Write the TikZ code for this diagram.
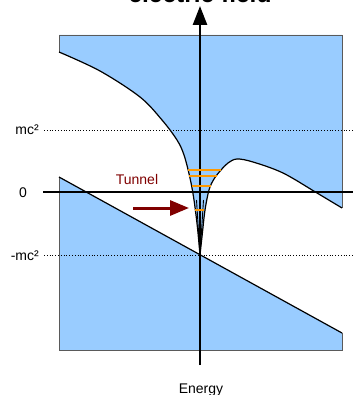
\documentclass[tikz,border=0pt]{standalone}
\usepackage{fontspec}
\setmainfont{Liberation Sans}
\usetikzlibrary{arrows.meta}
\definecolor{bandblue}{HTML}{99CCFF}
\definecolor{edgegray}{HTML}{5A5A5A}
\definecolor{levelorange}{HTML}{FF9900}
\definecolor{tunnelred}{HTML}{800000}
\tikzset{
  band/.style={fill=bandblue, draw=none},
  bandedge/.style={draw=edgegray, line width=0.8pt},
  curveline/.style={draw=black, line width=1.2pt},
  refline/.style={draw=black, line width=0.8pt, dotted},
  axisline/.style={draw=black, line width=2.6pt},
  levelline/.style={draw=levelorange, line width=2.4pt},
  lbl/.style={font=\fontsize{14}{16}\selectfont, inner sep=0pt},
}
\begin{document}
\begin{tikzpicture}[x=1pt,y=-1pt]
\useasboundingbox (0,0) rectangle (353,395);
% upper band
\fill[bandblue] (59,35) -- (342,35) -- (342,208)
  -- plot[smooth, tension=0.55] coordinates {(342,208) (317,193) (283,173) (253,162) (237,159) (228,163) (221,170) (214,179) (209,190) (205,210) (202.5,232) (200,255)}
  -- plot[smooth, tension=0.55] coordinates {(200,255) (197.5,228) (194,200) (190,178) (184,155) (177,140) (162,120) (140,97) (100,71) (59,52)}
  -- cycle;
% lower band
\fill[bandblue] (59,177) -- (342,333) -- (342,350) -- (59,350) -- cycle;
% gray edges
\draw[bandedge] (59,52) -- (59,35) -- (342,35) -- (342,208);
\draw[bandedge] (59,177) -- (59,350) -- (342,350) -- (342,333);
% black curves
\draw[curveline] plot[smooth, tension=0.55] coordinates {(342,208) (317,193) (283,173) (253,162) (237,159) (228,163) (221,170) (214,179) (209,190) (205,210) (202.5,232) (200,255)};
\draw[curveline] plot[smooth, tension=0.55] coordinates {(200,255) (197.5,228) (194,200) (190,178) (184,155) (177,140) (162,120) (140,97) (100,71) (59,52)};
\draw[black, line width=0.9pt] (196.5,200) -- (200,255) -- (203.5,200);
\draw[curveline] (59,177) -- (342,333);
% reference lines
\coordinate (mcL) at (44,130); \coordinate (mcR) at (353,130);
\coordinate (nmcL) at (44,255); \coordinate (nmcR) at (353,255);
\draw[refline] (mcL) -- (mcR);
\draw[refline] (nmcL) -- (nmcR);
% axes
\coordinate (hL) at (43,192); \coordinate (hR) at (353,192);
\coordinate (vB) at (200,365); \coordinate (vT) at (200,6);
\draw[axisline] (hL) -- (hR);
\draw[axisline, -{Triangle[length=19pt,width=14pt]}] (vB) -- (vT);
% bound levels
\coordinate (l1a) at (188,170); \coordinate (l1b) at (221,170);
\coordinate (l2a) at (189,176); \coordinate (l2b) at (217,176);
\coordinate (l3a) at (192,186); \coordinate (l3b) at (211,186);
\coordinate (l4a) at (195,210); \coordinate (l4b) at (204,210);
\draw[levelline] (l1a) -- (l1b);
\draw[levelline] (l2a) -- (l2b);
\draw[levelline] (l3a) -- (l3b);
\draw[levelline] (l4a) -- (l4b);
% tunnel arrow
\coordinate (tA) at (133,208); \coordinate (tB) at (189,208);
\draw[tunnelred, line width=3pt, -{Triangle[length=19pt,width=15pt]}] (tA) -- (tB);
% texts
\node[lbl, text=tunnelred, anchor=base] (tunnel) at (137,184) {Tunnel};
\node[lbl, anchor=base east] (mc) at (39,135) {mc²};
\node[lbl, anchor=base] (zero) at (23,197) {0};
\node[lbl, anchor=base east] (nmc) at (39,260) {-mc²};
\node[lbl, anchor=base] (energy) at (201,393) {Energy};
\node[inner sep=0pt, anchor=base, font=\fontsize{24.5}{28}\selectfont\bfseries] (title) at (200,3) {electric field};
\end{tikzpicture}
\end{document}
